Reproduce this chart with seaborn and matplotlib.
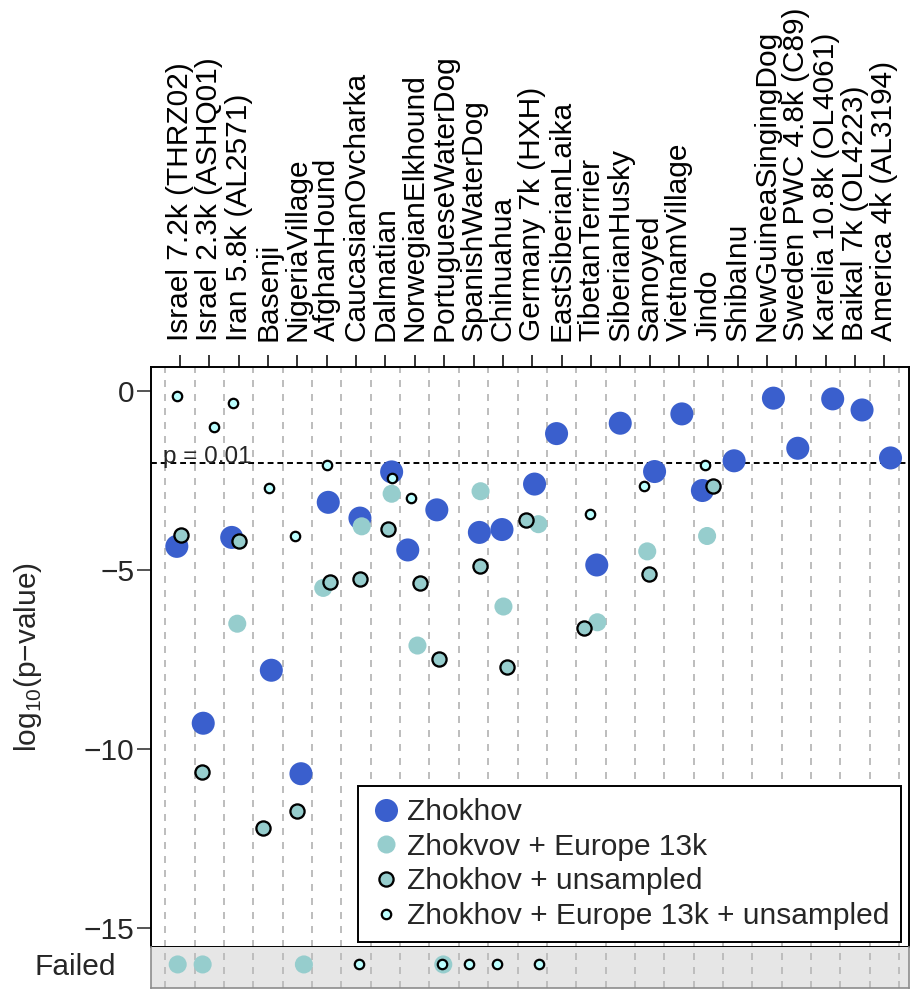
import numpy as np
import pandas as pd
import matplotlib
matplotlib.use("Agg")
import matplotlib.pyplot as plt
import seaborn as sns
from matplotlib.lines import Line2D

# ---- data -------------------------------------------------------------
samples = [
    "Israel 7.2k (THRZ02)", "Israel 2.3k (ASHQ01)", "Iran 5.8k (AL2571)",
    "Basenji", "NigeriaVillage", "AfghanHound", "CaucasianOvcharka",
    "Dalmatian", "NorwegianElkhound", "PortugueseWaterDog", "SpanishWaterDog",
    "Chihuahua", "Germany 7k (HXH)", "EastSiberianLaika", "TibetanTerrier",
    "SiberianHusky", "Samoyed", "VietnamVillage", "Jindo", "ShibaInu",
    "NewGuineaSingingDog", "Sweden PWC 4.8k (C89)", "Karelia 10.8k (OL4061)",
    "Baikal 7k (OL4223)", "America 4k (AL3194)",
]

F = "failed"   # model fit failed
N = None       # model not run

# log10(p-value) per sample for each model
logp_zhokhov = [-4.34, -9.28, -4.09, -7.80, -10.69, -3.11, -3.55, -2.26, -4.44,
                -3.32, -3.95, -3.87, -2.60, -1.19, -4.86, -0.90, -2.25, -0.64,
                -2.78, -1.95, -0.20, -1.60, -0.22, -0.53, -1.87]
logp_europe = [F, F, -6.50, N, F, -5.50, -3.78, -2.87, -7.11, F, -2.80, -6.02,
               -3.72, N, -6.46, N, -4.48, N, -4.05, N, N, N, N, N, N]
logp_unsampled = [-4.03, -10.64, -4.20, -12.20, -11.72, -5.34, -5.24, -3.85,
                  -5.36, -7.48, -4.90, -7.71, -3.60, N, -6.62, N, -5.11, N,
                  -2.65, N, N, N, N, N, N]
logp_europe_unsampled = [-0.13, -1.01, -0.34, -2.72, -4.05, -2.06, F, -2.44,
                         -2.99, F, F, F, F, N, -3.44, N, -2.64, N, -2.08,
                         N, N, N, N, N, N]

series_names = ["Zhokhov", "Zhokvov + Europe 13k", "Zhokhov + unsampled",
                "Zhokhov + Europe 13k + unsampled"]
threshold_p = 0.01

# horizontal jitter of each point within its sample column
jitter_zhokhov = [-0.11, -0.21, -0.24, 0.11, 0.12, 0.05, 0.13, 0.21, -0.24,
                  -0.25, 0.20, -0.03, 0.08, -0.17, 0.20, 0.00, 0.17, 0.10,
                  -0.20, -0.12, 0.22, 0.05, 0.24, 0.24, 0.21]
jitter_europe = [-0.08, -0.23, -0.05, 0.0, 0.22, -0.12, 0.19, 0.21, 0.09,
                 -0.03, 0.24, 0.02, 0.21, 0.0, 0.22, 0.0, -0.08, 0.0, -0.04,
                 0.0, 0.0, 0.0, 0.0, 0.0, 0.0]
jitter_unsampled = [0.03, -0.24, 0.02, -0.16, -0.01, 0.11, 0.13, 0.10, 0.18,
                    -0.16, 0.22, 0.13, -0.21, 0.0, -0.22, 0.0, -0.01, 0.0,
                    0.15, 0.0, 0.0, 0.0, 0.0, 0.0, 0.0]
jitter_europe_unsampled = [-0.09, 0.17, -0.18, 0.04, -0.07, 0.02, 0.10, 0.23,
                           -0.13, -0.06, -0.14, -0.21, 0.23, 0.0, -0.03, 0.0,
                           -0.20, 0.0, -0.10, 0.0, 0.0, 0.0, 0.0, 0.0, 0.0]

# ---- styling ----------------------------------------------------------
sns.set_style("white")
plt.rcParams["font.family"] = ["Liberation Sans", "DejaVu Sans"]
plt.rcParams["mathtext.fontset"] = "custom"
plt.rcParams["mathtext.rm"] = "Liberation Sans"
plt.rcParams["axes.unicode_minus"] = True

FS = 21.5
BLUE = "#3A5FCD"
TEAL = "#96CDCD"
CYAN = "#BBFFFF"
GRID = "#BEBEBE"

styles = [
    dict(s=275, color=BLUE, edgecolor="none", linewidth=0, zorder=3),
    dict(s=169, color=TEAL, edgecolor="none", linewidth=0, zorder=4),
    dict(s=104, color=TEAL, edgecolor="black", linewidth=1.65, zorder=5),
    dict(s=46, color=CYAN, edgecolor="black", linewidth=1.6, zorder=6),
]

# ---- long-form table --------------------------------------------------
rows = []
for name, vals, jit in zip(series_names,
                           [logp_zhokhov, logp_europe, logp_unsampled,
                            logp_europe_unsampled],
                           [jitter_zhokhov, jitter_europe, jitter_unsampled,
                            jitter_europe_unsampled]):
    for i, (v, j) in enumerate(zip(vals, jit)):
        if v is None:
            continue
        rows.append(dict(series=name, sample=samples[i], x=i + j,
                         failed=(v == F),
                         logp=np.nan if v == F else float(v)))
df = pd.DataFrame(rows)

# ---- figure -----------------------------------------------------------
W, H = 911, 989
fig = plt.figure(figsize=(W / 100, H / 100), dpi=100)
L, R = 151, 909
ax = fig.add_axes([L / W, 1 - 947 / H, (R - L) / W, (947 - 367) / H])
ax_f = fig.add_axes([L / W, 1 - 988 / H, (R - L) / W, (988 - 947) / H],
                    sharex=ax)

xmin, xmax = -0.99, 24.84
ax.set_xlim(xmin, xmax)
ax.set_ylim(-15.53, 0.67)
ax_f.set_ylim(-1.35, 1.0)

# dashed column separators
for a in (ax, ax_f):
    for b in np.arange(len(samples) + 1) - 0.5:
        a.axvline(b, color=GRID, lw=1.44, ls=(0, (3.5, 3.5)), zorder=1)

# significance threshold
thr = np.log10(threshold_p)
ax.axhline(thr, color="black", lw=1.4, ls=(0, (3, 2)), zorder=2)
ax.text(-0.58, thr, "p = 0.01", fontsize=17.5, ha="left", va="baseline",
        zorder=2)

for name, st in zip(series_names, styles):
    sub = df[(df.series == name) & (~df.failed)]
    sns.scatterplot(data=sub, x="x", y="logp", ax=ax, legend=False, **st)
    subf = df[(df.series == name) & (df.failed)].assign(logp=0.0)
    if len(subf):
        sns.scatterplot(data=subf, x="x", y="logp", ax=ax_f, legend=False,
                        **st)

# main axis styling
ax.xaxis.tick_top()
ax.set_xticks(range(len(samples)))
ax.set_xticklabels(samples, rotation=90, fontsize=FS)
ax.tick_params(axis="x", which="both", top=True, bottom=False, length=8.6,
               width=1.1, pad=10, direction="out", colors="black")
ax.set_yticks([0, -5, -10, -15])
ax.set_yticklabels(["0", "\u22125", "\u221210", "\u221215"], fontsize=FS)
ax.tick_params(axis="y", length=10, width=1.1, pad=2, direction="out",
               left=True)
ax.set_xlabel("")
ax.set_ylabel("log$_{\\mathregular{10}}$(p\u2212value)", fontsize=FS)
ax.yaxis.set_label_coords((44 - L) / (R - L), 0.5)
for sp in ax.spines.values():
    sp.set_color("black")
    sp.set_linewidth(1.4)
    sp.set_visible(True)

# failed strip styling
ax_f.set_facecolor("#E6E6E6")
ax_f.set_yticks([0])
ax_f.set_yticklabels(["Failed"], fontsize=FS)
ax_f.tick_params(axis="y", length=0, pad=25, left=True)
ax_f.tick_params(axis="x", length=0, labelbottom=False, labeltop=False,
                 bottom=False, top=False)
ax_f.set_xlabel("")
ax_f.set_ylabel("")
for sp in ax_f.spines.values():
    sp.set_color("#8C8C8C")
    sp.set_linewidth(1.2)
    sp.set_visible(True)
ax_f.spines["top"].set_visible(False)

# legend
handles = [
    Line2D([], [], ls="none", marker="o", markersize=np.sqrt(st["s"]),
           markerfacecolor=st["color"],
           markeredgecolor=st["edgecolor"] if st["edgecolor"] != "none" else st["color"],
           markeredgewidth=st["linewidth"])
    for st in styles
]
leg = ax.legend(handles, series_names, loc="lower right",
                bbox_to_anchor=((901 - L) / (R - L), (947 - 942) / (947 - 367)),
                borderaxespad=0, fontsize=FS, frameon=True, fancybox=False,
                framealpha=1, edgecolor="black", borderpad=0.4,
                handlelength=1.12, handletextpad=0.12, labelspacing=0.22)
leg.get_frame().set_linewidth(1.4)
leg.set_zorder(10)

fig.savefig("out.png", dpi=100)
